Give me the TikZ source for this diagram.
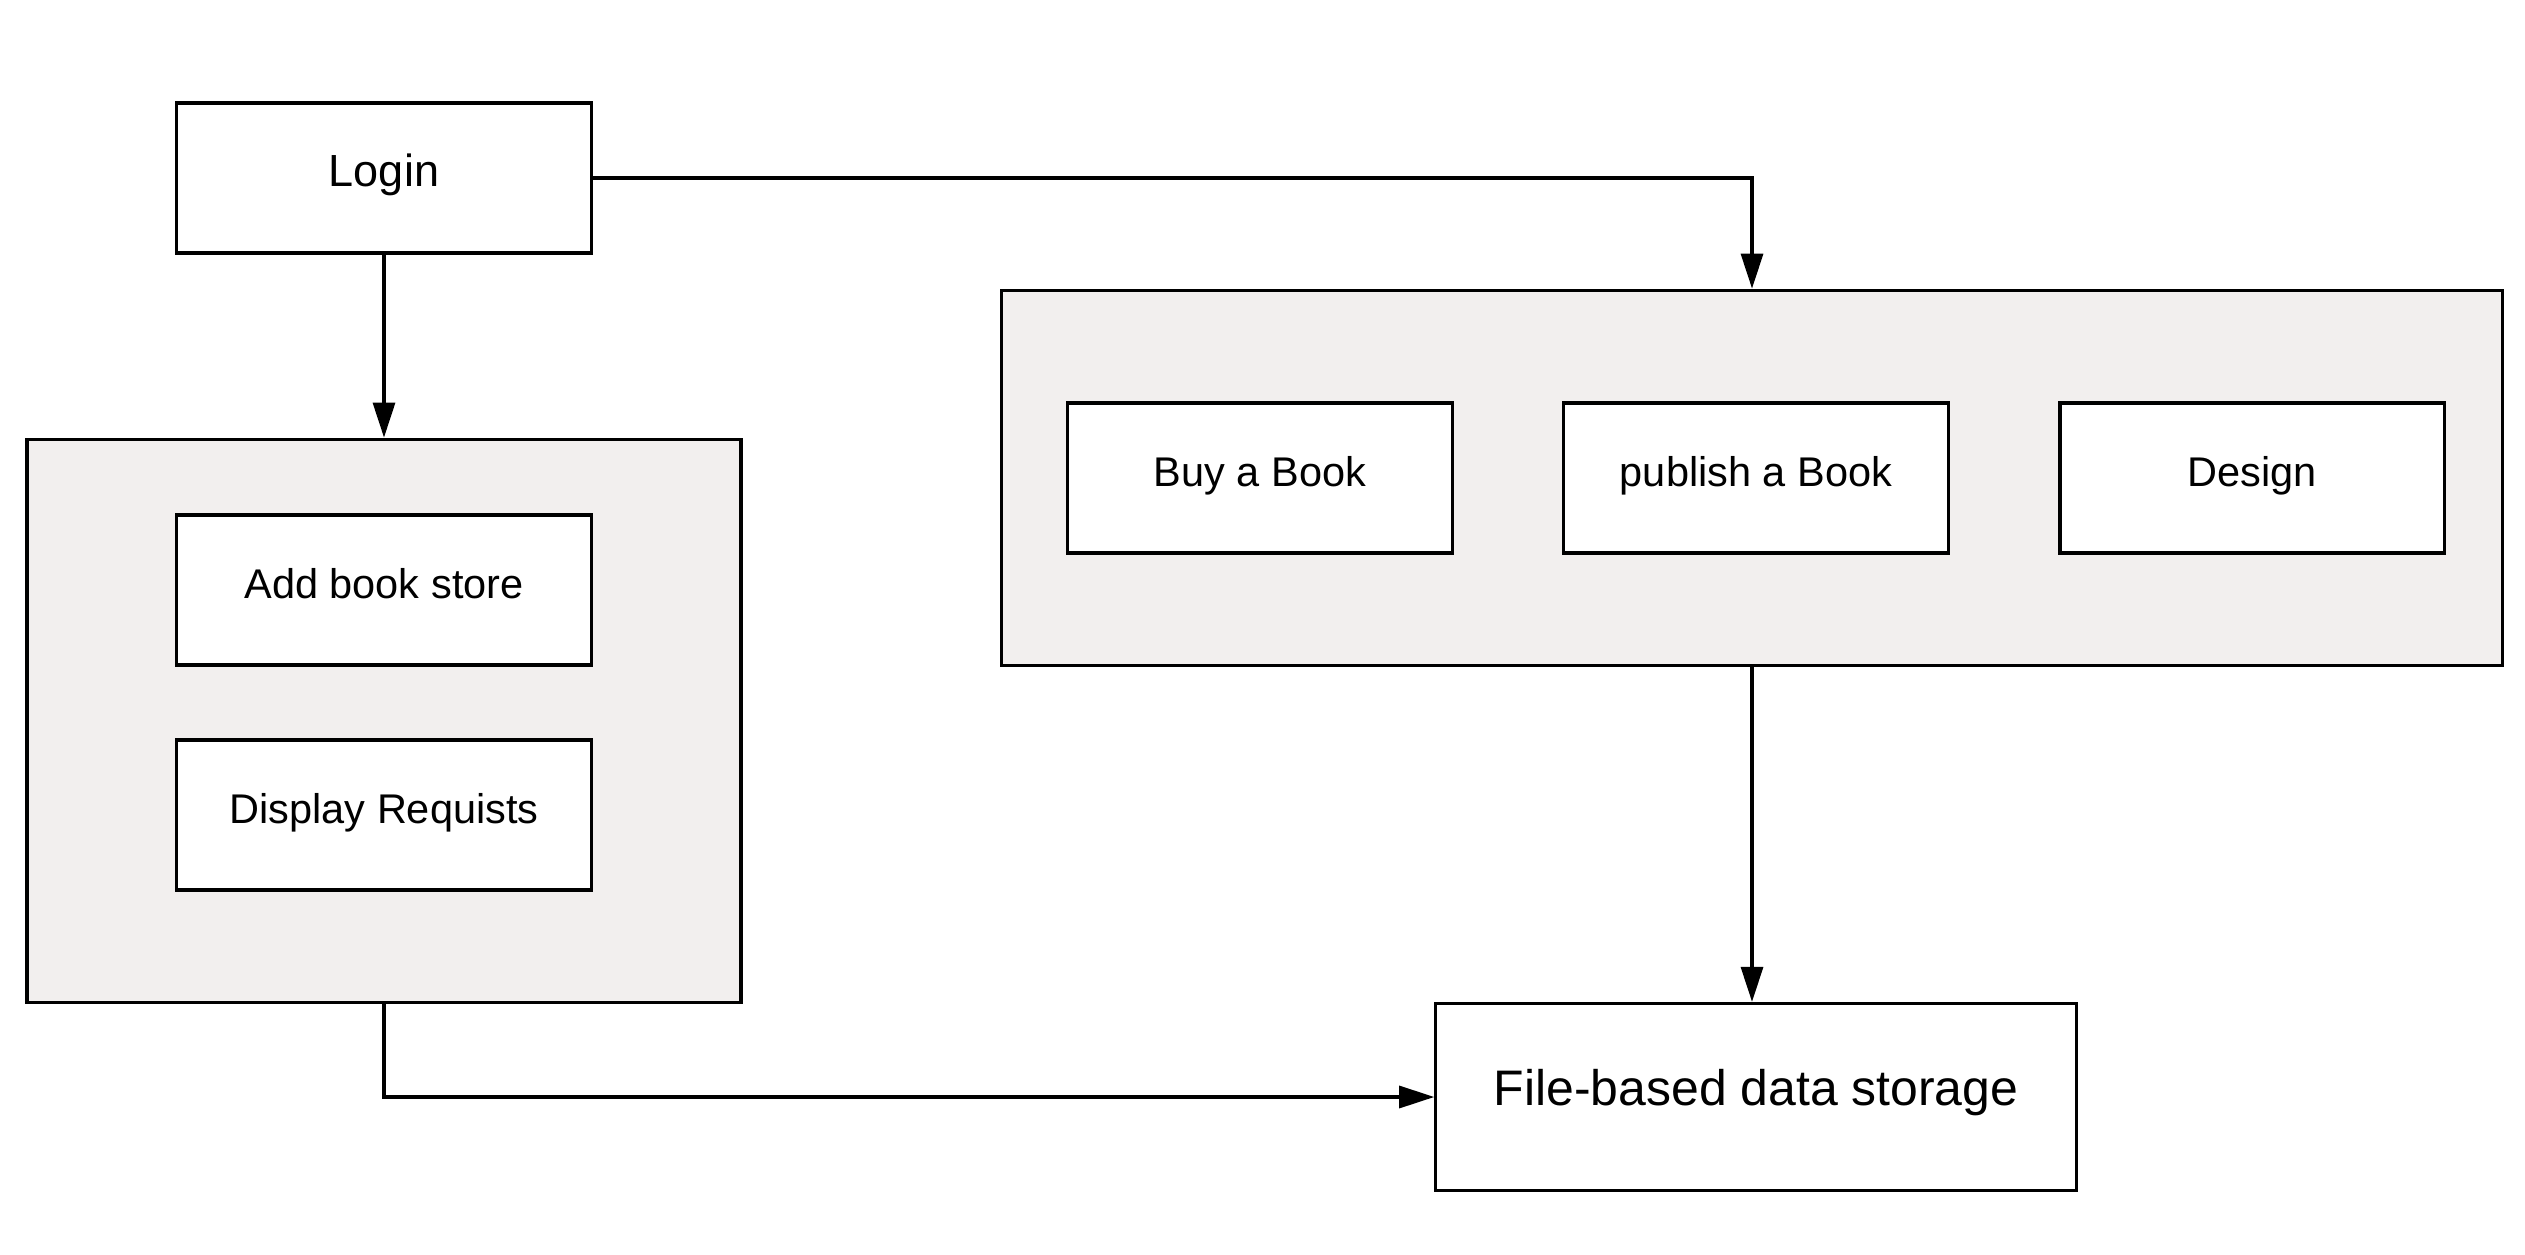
\documentclass[tikz,border=0pt]{standalone}
\usepackage{fontspec}
\setmainfont{Liberation Sans}
\usetikzlibrary{arrows.meta}
\definecolor{panelfill}{RGB}{242,239,238}

\begin{document}
\begin{tikzpicture}[x=0.01cm, y=-0.01cm,
		box/.style={draw, line width=0.9pt, fill=white, inner sep=0pt,
			text height=0.73em, text depth=0.26em,
			minimum width=4.14cm, minimum height=1.5cm, font=\fontsize{11.8}{14}\selectfont},
		panel/.style={draw, line width=1pt, fill=panelfill, inner sep=0pt},
		flow/.style={line width=0.9pt, -{Triangle[length=0.35cm, width=0.22cm]}}]
	\useasboundingbox (0,0) rectangle (2525,1255);
	% grey groups
	\node[panel, minimum width=7.14cm, minimum height=5.63cm] (admin) at (384,721) {};
	\node[panel, minimum width=15cm, minimum height=3.75cm] (user) at (1752,478) {};
	% boxes
	\node[box, font=\fontsize{12.8}{15}\selectfont] (login) at (384,178) {Login};
	\node[box] (addstore) at (384,590) {Add book store};
	\node[box] (requests) at (384,815) {Display Requists};
	\node[box, minimum width=3.84cm] (buy) at (1260,478) {Buy a Book};
	\node[box, minimum width=3.84cm] (publish) at (1756,478) {publish a Book};
	\node[box, minimum width=3.84cm] (design) at (2252,478) {Design};
	\node[box, minimum width=6.4cm, minimum height=1.87cm,
		font=\fontsize{14.2}{17}\selectfont] (store) at (1756,1097) {File-based data storage};
	% connectors
	\draw[flow] (login.south) -- (admin.north);
	\draw[flow] (login.east) -| (user.north);
	\draw[flow] (user.south) -- (user.south |- store.north);
	\draw[flow] (admin.south) |- (store.west);
\end{tikzpicture}
\end{document}
